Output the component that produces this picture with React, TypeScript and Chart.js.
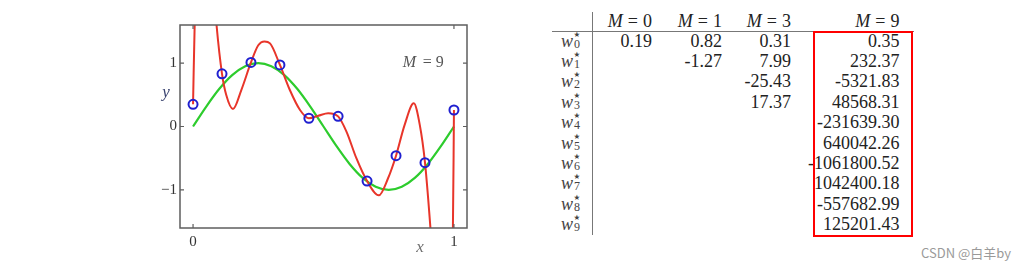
import React, { useEffect, useRef } from "react";
import { Chart, registerables } from "chart.js";

Chart.register(...registerables);

// ---------- plot data ----------
const sampleX = [0, 0.111, 0.222, 0.333, 0.444, 0.556, 0.667, 0.778, 0.889, 1];
const sampleY = [0.35, 0.83, 1.01, 0.97, 0.13, 0.16, -0.86, -0.46, -0.57, 0.26];

const trueX = [0, 0.05, 0.1, 0.15, 0.2, 0.25, 0.3, 0.35, 0.4, 0.45, 0.5, 0.55, 0.6, 0.65, 0.7, 0.75, 0.8, 0.85, 0.9, 0.95, 1];
const trueY = [0, 0.31, 0.59, 0.81, 0.95, 1.0, 0.95, 0.81, 0.59, 0.31, 0, -0.31, -0.59, -0.81, -0.95, -1.0, -0.95, -0.81, -0.59, -0.31, 0];

const fitX = [0, 0.007, 0.045, 0.09, 0.111, 0.127, 0.153, 0.185, 0.222, 0.25, 0.274, 0.295, 0.333, 0.371, 0.41, 0.444, 0.48, 0.518, 0.556, 0.588, 0.626, 0.667, 0.712, 0.747, 0.778, 0.811, 0.846, 0.869, 0.889, 0.91, 0.95, 0.996, 1];
const fitY = [0.35, 1.75, 4.0, 1.6, 0.83, 0.5, 0.276, 0.575, 1.01, 1.28, 1.34, 1.31, 0.97, 0.575, 0.26, 0.13, 0.17, 0.21, 0.16, -0.08, -0.5, -0.86, -1.085, -0.82, -0.46, 0.025, 0.365, 0.025, -0.57, -1.607, -4.0, -1.607, 0.26];

const xTickValues = [0, 1];
const xTickLabels = ["0", "1"];
const yTickValues = [-1, 0, 1];
const yTickLabels = ["−1", "0", "1"];
const xAxisLabel = "x";
const yAxisLabel = "y";
const modelLabel = { letter: "M", rest: "= 9" };

// ---------- table data ----------
const tableHeaders = ["0", "1", "3", "9"];
const rowIndices = ["0", "1", "2", "3", "4", "5", "6", "7", "8", "9"];
const wM0 = ["0.19"];
const wM1 = ["0.82", "-1.27"];
const wM3 = ["0.31", "7.99", "-25.43", "17.37"];
const wM9 = ["0.35", "232.37", "-5321.83", "48568.31", "-231639.30", "640042.26", "-1061800.52", "1042400.18", "-557682.99", "125201.43"];
const tableColumns = [wM0, wM1, wM3, wM9];
const watermark = "CSDN @白羊by";

const pts = (xs: number[], ys: number[]) => xs.map((x, i) => ({ x, y: ys[i] }));

const SERIF = "'Liberation Serif', 'Times New Roman', serif";

function Plot() {
  const ref = useRef<HTMLCanvasElement>(null);
  useEffect(() => {
    if (!ref.current) return;
    const framePlugin = {
      id: "frame",
      afterDraw(chart: any) {
        const { ctx, chartArea: a, scales } = chart;
        ctx.save();
        ctx.strokeStyle = "#5e5e5e";
        ctx.lineWidth = 1.5;
        ctx.strokeRect(a.left, a.top, a.right - a.left, a.bottom - a.top);
        ctx.lineWidth = 1.2;
        yTickValues.forEach((v) => {
          const p = scales.y.getPixelForValue(v);
          ctx.beginPath();
          ctx.moveTo(a.left, p);
          ctx.lineTo(a.left + 4, p);
          ctx.moveTo(a.right, p);
          ctx.lineTo(a.right - 4, p);
          ctx.stroke();
        });
        xTickValues.forEach((v) => {
          const p = scales.x.getPixelForValue(v);
          ctx.beginPath();
          ctx.moveTo(p, a.bottom);
          ctx.lineTo(p, a.bottom - 4);
          ctx.moveTo(p, a.top);
          ctx.lineTo(p, a.top + 4);
          ctx.stroke();
        });
        ctx.textBaseline = "middle";
        ctx.textAlign = "center";
        ctx.font = `italic 17px ${SERIF}`;
        ctx.fillStyle = "#3a4470";
        ctx.fillText(yAxisLabel, a.left - 14, scales.y.getPixelForValue(0.54));
        ctx.fillStyle = "#707070";
        ctx.fillText(xAxisLabel, scales.x.getPixelForValue(0.87), a.bottom + 20);
        const mx = scales.x.getPixelForValue(0.804);
        const my = scales.y.getPixelForValue(1.0);
        ctx.textAlign = "left";
        ctx.fillStyle = "#555";
        ctx.font = `italic 16px ${SERIF}`;
        ctx.fillText(modelLabel.letter, mx, my);
        ctx.font = `16px ${SERIF}`;
        ctx.fillText(modelLabel.rest, mx + 20, my);
        ctx.restore();
      },
    };
    const chart = new Chart(ref.current, {
      type: "scatter",
      data: {
        datasets: [
          {
            data: pts(sampleX, sampleY),
            showLine: false,
            pointStyle: "circle",
            pointRadius: 4.5,
            pointBorderWidth: 2,
            pointBorderColor: "#2020d0",
            pointBackgroundColor: "rgba(0,0,0,0)",
            order: 0,
          },
          {
            data: pts(fitX, fitY),
            showLine: true,
            borderColor: "#e8352a",
            borderWidth: 2,
            pointRadius: 0,
            cubicInterpolationMode: "monotone",
            order: 1,
          },
          {
            data: pts(trueX, trueY),
            showLine: true,
            borderColor: "#2dcc2d",
            borderWidth: 2.2,
            pointRadius: 0,
            cubicInterpolationMode: "monotone",
            order: 2,
          },
        ],
      } as any,
      options: {
        animation: false,
        responsive: false,
        events: [],
        layout: { padding: { left: 140, top: 25, right: 53, bottom: 0 } },
        plugins: { legend: { display: false }, tooltip: { enabled: false } },
        scales: {
          x: {
            type: "linear",
            min: -0.05,
            max: 1.05,
            grid: { display: false, drawTicks: false },
            border: { display: false },
            afterBuildTicks: (s: any) => {
              s.ticks = xTickValues.map((value) => ({ value }));
            },
            afterFit: (s: any) => {
              s.height = 40;
            },
            ticks: {
              padding: 5,
              color: "#333",
              font: { family: SERIF, size: 15 },
              maxRotation: 0,
              callback: (v: any) => xTickLabels[xTickValues.indexOf(Number(v))] ?? "",
            },
          },
          y: {
            type: "linear",
            min: -1.6,
            max: 1.6,
            grid: { display: false, drawTicks: false },
            border: { display: false },
            afterBuildTicks: (s: any) => {
              s.ticks = yTickValues.map((value) => ({ value }));
            },
            afterFit: (s: any) => {
              s.width = 40;
            },
            ticks: {
              padding: 3,
              color: "#333",
              font: { family: SERIF, size: 15 },
              callback: (v: any) => yTickLabels[yTickValues.indexOf(Number(v))] ?? "",
            },
          },
        },
      } as any,
      plugins: [framePlugin],
    });
    return () => chart.destroy();
  }, []);
  return (
    <div style={{ position: "absolute", left: 0, top: 0, width: 520, height: 268 }}>
      <canvas ref={ref} width={520} height={268} style={{ display: "block" }} />
    </div>
  );
}

const colRight = [652, 722, 791, 899.5];
const headerCy = 20.7;
const rowCy0 = 40.7;
const rowPitch = 20.37;

function Table() {
  const textColor = "#222";
  const cells: React.ReactNode[] = [];
  tableHeaders.forEach((h, c) => {
    cells.push(
      <div
        key={"h" + c}
        style={{
          position: "absolute",
          right: 1029 - colRight[c],
          top: headerCy - 10,
          lineHeight: "20px",
          font: `18px ${SERIF}`,
          color: textColor,
          whiteSpace: "nowrap",
        }}
      >
        <i>M</i>
        <span style={{ marginLeft: 5, marginRight: 5 }}>=</span>
        {h}
      </div>
    );
  });
  rowIndices.forEach((idx, r) => {
    const cy = rowCy0 + r * rowPitch;
    cells.push(
      <div key={"w" + r} style={{ position: "absolute", left: 561, top: cy - 10, lineHeight: "20px", font: `italic 18px ${SERIF}`, color: "#444" }}>
        w
      </div>
    );
    cells.push(
      <div key={"s" + r} style={{ position: "absolute", left: 573.5, top: cy - 11, lineHeight: "10px", font: `7.5px 'DejaVu Sans', sans-serif`, color: "#444" }}>
        ★
      </div>
    );
    cells.push(
      <div key={"i" + r} style={{ position: "absolute", left: 574, top: cy - 4, lineHeight: "12px", font: `12px ${SERIF}`, color: "#444" }}>
        {idx}
      </div>
    );
    tableColumns.forEach((col, c) => {
      if (col[r] === undefined) return;
      cells.push(
        <div
          key={`v${r}-${c}`}
          style={{
            position: "absolute",
            right: 1029 - colRight[c],
            top: cy - 10,
            lineHeight: "20px",
            font: `18px ${SERIF}`,
            color: textColor,
            whiteSpace: "nowrap",
          }}
        >
          {col[r]}
        </div>
      );
    });
  });
  return (
    <>
      <div style={{ position: "absolute", left: 552, top: 30.5, width: 362, height: 1.2, background: "#777" }} />
      <div style={{ position: "absolute", left: 591.7, top: 12, width: 1.3, height: 223, background: "#777" }} />
      {cells}
      <div
        style={{
          position: "absolute",
          left: 813,
          top: 30.5,
          width: 99.5,
          height: 206.5,
          border: "2.5px solid #ff0000",
          boxSizing: "border-box",
        }}
      />
      <div
        style={{
          position: "absolute",
          left: 921,
          top: 243,
          lineHeight: "18px",
          font: `13px 'Noto Sans CJK SC', 'Noto Sans', sans-serif`,
          color: "#9a9a9a",
          whiteSpace: "nowrap",
        }}
      >
        {watermark}
      </div>
    </>
  );
}

export default function App() {
  return (
    <div style={{ position: "absolute", left: 0, top: 0, width: 1029, height: 268, background: "#fff", overflow: "hidden" }}>
      <Plot />
      <Table />
    </div>
  );
}
